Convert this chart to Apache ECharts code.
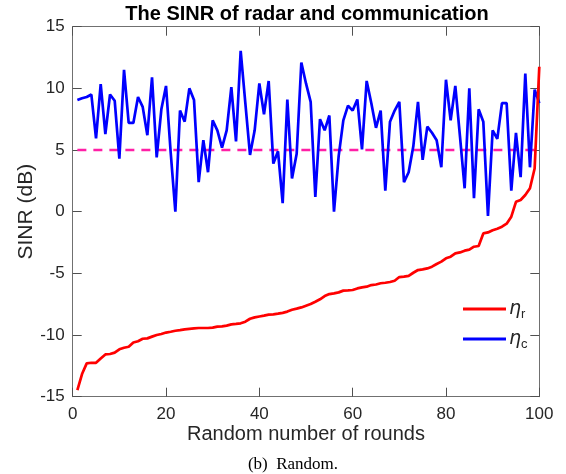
<!DOCTYPE html>
<html>
<head>
<meta charset="utf-8">
<script src="https://cdn.jsdelivr.net/npm/echarts@6/dist/echarts.min.js"></script>
<style>
html, body { margin: 0; padding: 0; background: #fff; }
#myChart { width: 566px; height: 474px; }
</style>
</head>
<body>
<div id="myChart"></div>
<script>
// SINR per round
var rounds = [];
for (var i = 1; i <= 100; i++) rounds.push(i);

var radar = [
    -14.46, -13.16, -12.3, -12.25, -12.25, -11.9, -11.57, -11.54, -11.43, -11.16,
    -11.03, -10.95, -10.6, -10.5, -10.3, -10.27, -10.13, -10.0, -9.92, -9.8,
    -9.73, -9.65, -9.6, -9.54, -9.5, -9.46, -9.43, -9.43, -9.43, -9.4,
    -9.32, -9.3, -9.24, -9.14, -9.1, -9.05, -8.92, -8.68, -8.57, -8.5,
    -8.43, -8.35, -8.32, -8.27, -8.2, -8.1, -7.95, -7.86, -7.76, -7.62,
    -7.49, -7.3, -7.1, -6.84, -6.68, -6.62, -6.54, -6.4, -6.38, -6.35,
    -6.22, -6.14, -6.08, -5.95, -5.9, -5.8, -5.76, -5.7, -5.6, -5.3,
    -5.27, -5.2, -4.95, -4.73, -4.68, -4.6, -4.46, -4.24, -4.05, -3.78,
    -3.65, -3.38, -3.3, -3.16, -3.08, -2.84, -2.78, -1.76, -1.68, -1.5,
    -1.38, -1.22, -0.97, -0.4, 0.8, 0.95, 1.35, 1.9, 3.5, 11.75
];

var comm = [
    9.05, 9.2, 9.3, 9.5, 5.95, 10.35, 6.3, 9.5, 9.0, 4.3,
    11.5, 7.2, 7.2, 9.3, 8.5, 6.2, 10.9, 4.4, 8.3, 10.2,
    4.8, 0.0, 8.2, 7.3, 10.0, 9.05, 2.4, 5.8, 3.2, 7.4,
    6.6, 5.2, 6.6, 10.1, 5.7, 13.05, 8.8, 4.6, 6.6, 10.4,
    7.9, 10.6, 3.9, 4.9, 0.7, 9.1, 2.7, 4.7, 12.1, 10.4,
    8.9, 1.2, 7.5, 6.6, 7.8, 0.0, 4.5, 7.4, 8.6, 8.2,
    9.1, 5.05, 10.6, 8.8, 6.8, 8.2, 1.7, 7.3, 8.2, 8.9,
    2.4, 3.2, 5.3, 8.9, 4.2, 6.9, 6.4, 5.8, 3.6, 10.7,
    7.4, 10.2, 6.1, 1.9, 10.0, 1.1, 8.3, 7.3, -0.35, 6.6,
    5.9, 8.8, 8.8, 1.7, 6.4, 2.8, 11.2, 3.6, 9.9, 8.8
];

var threshold = 5;
var xTicks = [0, 100, 20];   // min, max, step
var yTicks = [-15, 15, 5];

function pairs(xs, ys) {
    var out = [];
    for (var k = 0; k < xs.length; k++) out.push([xs[k], ys[k]]);
    return out;
}

var myChart = echarts.init(document.getElementById('myChart'));
var axisCol = '#262626';
var font = 'Liberation Sans, Arial, sans-serif';

function axisBase(extra) {
    var a = {
        type: 'value',
        axisLine: { show: true, onZero: false, lineStyle: { color: '#707070', width: 1 } },
        axisTick: { show: true, inside: true, length: 9, lineStyle: { color: '#505050', width: 1 } },
        splitLine: { show: false }
    };
    for (var k in extra) a[k] = extra[k];
    return a;
}

var etaRich = {
    g: { fontFamily: 'DejaVu Sans', fontStyle: 'italic', fontSize: 19, color: axisCol, lineHeight: 22 },
    s: { fontFamily: font, fontSize: 13, color: axisCol, padding: [11, 0, 0, 0], lineHeight: 22 }
};

var option = {
    animation: false,
    title: [{
        text: 'The SINR of radar and communication',
        left: 302, top: -1, textAlign: 'center',
        textStyle: { fontFamily: font, fontWeight: 'bold', fontSize: 20, color: '#000' }
    }, {
        text: '(b)  Random.',
        left: 288, top: 451, textAlign: 'center',
        textStyle: { fontFamily: 'Liberation Serif, Times New Roman, serif', fontWeight: 'normal', fontSize: 17, color: '#000' }
    }],
    grid: { left: 72.7, right: 26.7, top: 26.7, bottom: 77.3, containLabel: false },
    legend: {
        orient: 'vertical',
        left: 463, top: 297,
        padding: 0,
        itemWidth: 43, itemHeight: 3, itemGap: 6,
        icon: 'rect',
        data: ['r', 'c'],
        formatter: function(name) { return '{g|η}{s|' + name + '}'; },
        textStyle: { rich: etaRich, padding: [0, 0, 0, -2] }
    },
    xAxis: [axisBase({
        min: xTicks[0], max: xTicks[1], interval: xTicks[2],
        position: 'bottom',
        axisLabel: { fontFamily: font, fontSize: 17, color: axisCol, margin: 9 },
        name: 'Random number of rounds',
        nameLocation: 'middle', nameGap: 28,
        nameMoveOverlap: false,
        nameTextStyle: { fontFamily: font, fontSize: 20, color: axisCol }
    }), axisBase({
        min: xTicks[0], max: xTicks[1], interval: xTicks[2],
        position: 'top',
        axisLabel: { show: false }
    })],
    yAxis: [axisBase({
        min: yTicks[0], max: yTicks[1], interval: yTicks[2],
        position: 'left',
        axisLabel: { fontFamily: font, fontSize: 17, color: axisCol, margin: 8 },
        name: 'SINR (dB)',
        nameLocation: 'middle', nameGap: 36,
        nameMoveOverlap: false,
        nameTextStyle: { fontFamily: font, fontSize: 21, color: axisCol }
    }), axisBase({
        min: yTicks[0], max: yTicks[1], interval: yTicks[2],
        position: 'right',
        axisLabel: { show: false }
    })],
    series: [{
        name: 'threshold',
        type: 'line',
        data: [[rounds[0], threshold], [rounds[rounds.length - 1], threshold]],
        symbol: 'none',
        lineStyle: { color: '#ff1fa6', width: 2.6, type: [9, 7] },
        z: 1
    }, {
        name: 'c',
        type: 'line',
        data: pairs(rounds, comm),
        symbol: 'none',
        color: '#0000ff',
        lineStyle: { color: '#0000ff', width: 2.7 },
        z: 2
    }, {
        name: 'r',
        type: 'line',
        data: pairs(rounds, radar),
        symbol: 'none',
        color: '#ff0000',
        lineStyle: { color: '#ff0000', width: 2.7 },
        z: 3
    }]
};
myChart.setOption(option);
</script>
</body>
</html>
